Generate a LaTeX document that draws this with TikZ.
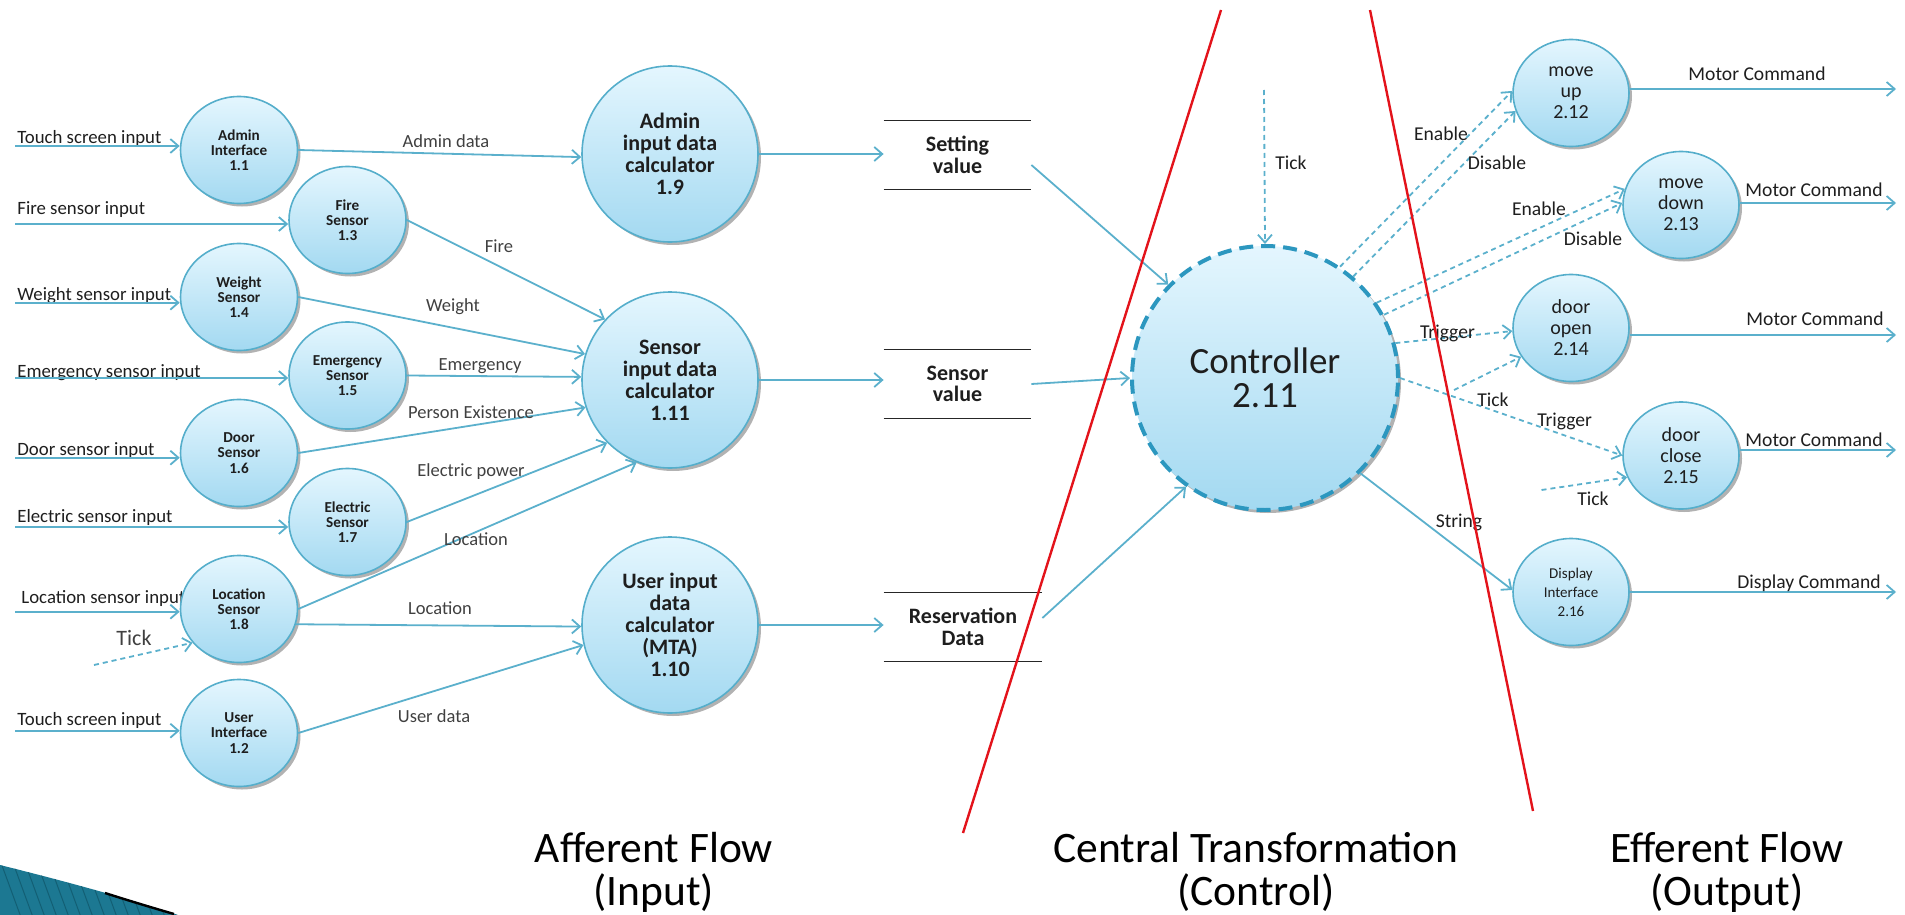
\documentclass[tikz,border=0pt]{standalone}
\usepackage{fontspec}
\setmainfont{Carlito}
\usetikzlibrary{shapes.geometric,arrows.meta,shadows}
\definecolor{ctop}{HTML}{E4F6FE}
\definecolor{cbot}{HTML}{A3D9F1}
\definecolor{cedge}{HTML}{55AECB}
\definecolor{flowc}{HTML}{5BB0CC}
\definecolor{ctledge}{HTML}{2C97BF}
\definecolor{redl}{HTML}{E3131B}
\definecolor{txt}{HTML}{1E1E1E}
\definecolor{teal1}{HTML}{1C7892}
\definecolor{teal2}{HTML}{135F74}
\begin{document}
\begin{tikzpicture}[x=0.5pt,y=-0.5pt,
  bub/.style={ellipse, draw=cedge, line width=0.8pt, top color=ctop, bottom color=cbot, inner sep=0pt, align=center, text=txt,
    drop shadow={shadow xshift=1.5pt, shadow yshift=-1.5pt, opacity=0.3, fill=black}},
  smallbub/.style={bub, minimum width=58.5pt, minimum height=53.5pt, font=\bfseries\fontsize{7.6}{7.6}\selectfont},
  bigbub/.style={bub, minimum width=88pt, minimum height=88pt, font=\bfseries\fontsize{11}{11}\selectfont},
  outbub/.style={bub, minimum width=58pt, minimum height=53.5pt, font=\fontsize{10}{10.5}\selectfont},
  store/.style={minimum width=73.5pt, minimum height=34pt, inner sep=0pt, align=center, font=\bfseries\fontsize{11}{10.8}\selectfont, text=txt},
  storeline/.style={draw=black!85, line width=0.8pt},
  flow/.style={draw=flowc, line width=0.9pt, -{Straight Barb[length=4pt,width=7pt]}},
  ctrlflow/.style={flow, dash pattern=on 2.5pt off 2pt},
  inlab/.style={anchor=base west, inner sep=0pt, font=\fontsize{9.4}{11}\selectfont, text=txt},
  flab/.style={inner sep=0pt, font=\fontsize{9.25}{11}\selectfont, text=txt!85},
  olab/.style={inner sep=0pt, font=\fontsize{9.8}{11}\selectfont, text=txt},
  redline/.style={draw=redl, line width=1.2pt},
  botlab/.style={anchor=base, inner sep=0pt, font=\fontsize{21.75}{24}\selectfont, text=black}
]
\useasboundingbox (0,0) rectangle (1905,915);

% decoration bottom-left
\fill[teal1] (0,865) .. controls (60,880) and (120,896) .. (178,915) -- (0,915) -- cycle;
\begin{scope}
  \clip (0,865) .. controls (60,880) and (120,896) .. (178,915) -- (0,915) -- cycle;
  \foreach \k in {0,12,...,180}{
    \draw[teal2, line width=0.5pt] (\k,860) -- ++(22,60);
  }
\end{scope}
\draw[black, line width=1.2pt] (105,893) .. controls (130,901) and (150,907) .. (174,914);

% input labels (behind bubbles)
\node[inlab] (l1) at (17,143) {Touch screen input};
\node[inlab] (l2) at (17,214) {Fire sensor input};
\node[inlab] (l3) at (17,300) {Weight sensor input};
\node[inlab] (l4) at (17,377) {Emergency sensor input};
\node[inlab] (l5) at (17,455) {Door sensor input};
\node[inlab] (l6) at (17,522) {Electric sensor input};
\node[inlab] (l7) at (21,603) {Location sensor input};
\node[inlab] (l8) at (17,725) {Touch screen input};
\node[inner sep=0pt, font=\fontsize{11}{12}\selectfont, text=txt!85] (tl1) at (134,638) {Tick};

% left small bubbles
\node[smallbub] (ai) at (239,150) {Admin\\Interface\\1.1};
\node[smallbub] (fs) at (347.5,220) {Fire\\Sensor\\1.3};
\node[smallbub] (ws) at (239,297) {Weight\\Sensor\\1.4};
\node[smallbub] (es) at (347.5,375.5) {Emergency\\Sensor\\1.5};
\node[smallbub] (ds) at (239,453) {Door\\Sensor\\1.6};
\node[smallbub] (el) at (347.5,522) {Electric\\Sensor\\1.7};
\node[smallbub] (ls) at (239,609) {Location\\Sensor\\1.8};
\node[smallbub] (ui) at (239,733) {User\\Interface\\1.2};

% calculators
\node[bigbub] (ac) at (670,154) {Admin\\input data\\calculator\\1.9};
\node[bigbub] (sc) at (670,380) {Sensor\\input data\\calculator\\1.11};
\node[bigbub] (uc) at (670,625) {User input\\data\\calculator\\(MTA)\\1.10};

% stores
\node[store] (sv) at (957.5,155) {Setting\\value};
\node[store] (sev) at (957.5,384) {Sensor\\value};
\node[store, minimum width=79pt] (rd) at (963,627) {Reservation\\Data};
\foreach \s in {sv,sev,rd}{
  \draw[storeline] (\s.north west) -- (\s.north east);
  \draw[storeline] (\s.south west) -- (\s.south east);
}

% controller
\node[bub, draw=ctledge, line width=2pt, dash pattern=on 7pt off 4pt, minimum width=133pt, minimum height=132pt,
  font=\fontsize{18.5}{17}\selectfont] (ctl) at (1265,378) {Controller\\2.11};

% right bubbles
\node[outbub] (mu) at (1571,93) {move\\up\\2.12};
\node[outbub] (md) at (1681,205) {move\\down\\2.13};
\node[outbub] (dop) at (1571,328) {door\\open\\2.14};
\node[outbub] (dc) at (1681,455.5) {door\\close\\2.15};
\node[outbub, font=\fontsize{7.5}{9.5}\selectfont] (di) at (1571,592) {Display\\Interface\\2.16};

% inputs
\coordinate (i1) at (15,146);   \draw[flow] (i1) -- (i1 -| ai.west);
\coordinate (i2) at (15,224);   \draw[flow] (i2) -- (i2 -| fs.west);
\coordinate (i3) at (15,302.7); \draw[flow] (i3) -- (i3 -| ws.west);
\coordinate (i4) at (15,378);   \draw[flow] (i4) -- (i4 -| es.west);
\coordinate (i5) at (15,457.7); \draw[flow] (i5) -- (i5 -| ds.west);
\coordinate (i6) at (15,527);   \draw[flow] (i6) -- (i6 -| el.west);
\coordinate (i7) at (15,611.7); \draw[flow] (i7) -- (i7 -| ls.west);
\coordinate (i8) at (15,730.7); \draw[flow] (i8) -- (i8 -| ui.west);
\coordinate (t1) at (94,665);   \draw[ctrlflow] (t1) -- (ls.216);

% flows to calculators
\draw[flow] (ai.east) -- (ac.182);
\draw[flow] (fs.east) -- (sc.137);
\draw[flow] (ws.east) -- (sc.163);
\draw[flow] (es.east) -- (sc.178);
\draw[flow] (ds.east) -- (sc.198);
\draw[flow] (el.east) -- (sc.225);
\draw[flow] (ls.east) -- (sc.248);
\draw[flow] (ls.-15) -- (uc.181);
\draw[flow] (ui.east) -- (uc.193);

\node[flab] (f1) at (446,141) {Admin data};
\node[flab] (f2) at (499,246) {Fire};
\node[flab] (f3) at (453,307) {Weight};
\node[flab] (f4) at (480,366) {Emergency};
\node[flab] (f5) at (471,412) {Person Existence};
\node[flab] (f6) at (471,472) {Electric power};
\node[flab] (f7) at (476,539) {Location};
\node[flab] (f8) at (440,608) {Location};
\node[flab] (f9) at (434,716) {User data};

% calculators to stores
\draw[flow] (ac.east) -- (ac.east -| sv.west);
\draw[flow] (sc.east) -- (sc.east -| sev.west);
\draw[flow] (uc.east) -- (uc.east -| rd.west);

% stores to controller
\draw[flow] ([yshift=-5pt]sv.east) -- (ctl.136);
\draw[flow] (sev.east) -- (ctl.180);
\draw[flow] ([yshift=4.5pt]rd.east) -- (ctl.234);

% controller outputs
\coordinate (tk) at (1264,90);
\draw[ctrlflow] (tk) -- (ctl.north);
\node[olab, anchor=west] (tkl) at (1275,163) {Tick};
\draw[ctrlflow] (ctl.56) -- (mu.178);
\draw[ctrlflow] (ctl.49) -- (mu.198);
\draw[ctrlflow] (ctl.34) -- (md.164);
\draw[ctrlflow] (ctl.28) -- (md.178);
\draw[ctrlflow] (ctl.15) -- (dop.183);
\draw[ctrlflow] (ctl.0) -- (dc.180);
\coordinate (t2) at (1454,390); \draw[ctrlflow] (t2) -- (dop.210);
\coordinate (t3) at (1541.5,490); \draw[ctrlflow] (t3) -- (dc.202);
\draw[flow] (ctl.-45) -- (di.178);

\node[olab] (e1) at (1441,134) {Enable};
\node[olab] (d1) at (1497,163) {Disable};
\node[olab] (e2) at (1539,209) {Enable};
\node[olab] (d2) at (1593,239) {Disable};
\node[olab] (tr1) at (1447.5,333) {Trigger};
\node[olab] (tr2) at (1564.6,421) {Trigger};
\node[olab] (tk2) at (1493,400) {Tick};
\node[olab] (tk3) at (1593,499) {Tick};
\node[olab] (st) at (1459,522) {String};

% outputs
\coordinate (m1) at (1896,89);  \draw[flow] (m1 -| mu.east) -- (m1);
\coordinate (m2) at (1896,203); \draw[flow] (m2 -| md.east) -- (m2);
\coordinate (m3) at (1896,335); \draw[flow] (m3 -| dop.east) -- (m3);
\coordinate (m4) at (1896,450); \draw[flow] (m4 -| dc.east) -- (m4);
\coordinate (m5) at (1896,592); \draw[flow] (m5 -| di.east) -- (m5);
\node[olab] (mc1) at (1757,74) {Motor Command};
\node[olab] (mc2) at (1814,190) {Motor Command};
\node[olab] (mc3) at (1815,319) {Motor Command};
\node[olab] (mc4) at (1814,440) {Motor Command};
\node[olab] (dcm) at (1809,583) {Display Command};

% red separators
\coordinate (ra) at (1221,10); \coordinate (rb) at (963,833);
\coordinate (rc) at (1370,10); \coordinate (rdd) at (1533,811);
\draw[redline] (ra) -- (rb);
\draw[redline] (rc) -- (rdd);

% bottom labels
\node[botlab] (b1) at (654,862) {Afferent Flow};
\node[botlab] (b2) at (654,905) {(Input)};
\node[botlab] (b3) at (1256,862) {Central Transformation};
\node[botlab] (b4) at (1256,905) {(Control)};
\node[botlab] (b5) at (1727,862) {Efferent Flow};
\node[botlab] (b6) at (1727,905) {(Output)};
\end{tikzpicture}
\end{document}
